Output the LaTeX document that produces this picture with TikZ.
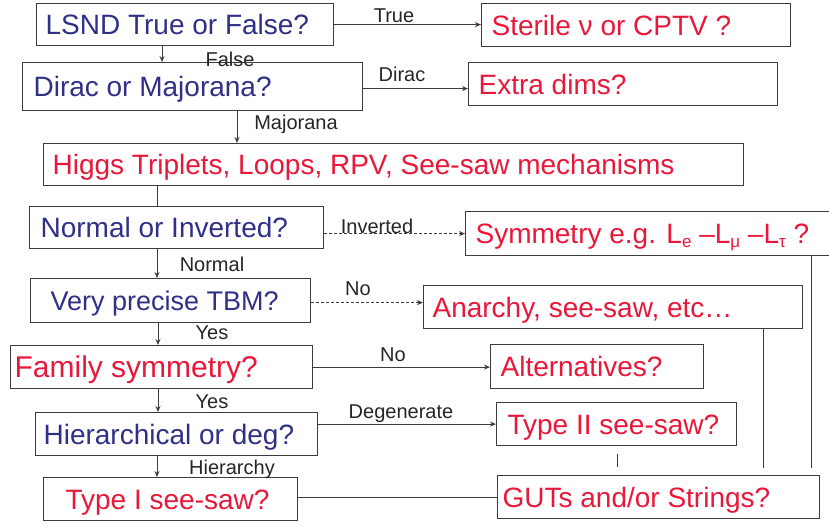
\documentclass[tikz,border=0pt]{standalone}
\usepackage{fontspec}
\setmainfont{Liberation Sans}
\usetikzlibrary{arrows.meta}
\definecolor{qblue}{RGB}{48,48,135}
\definecolor{ared}{RGB}{232,24,58}
\definecolor{lgray}{RGB}{60,60,60}
\begin{document}
\begin{tikzpicture}[x=1pt,y=-1pt,
  box/.style={draw=lgray, line width=1.2pt, anchor=north west, inner ysep=0pt,
    text height=20pt, text depth=0pt, font=\fontsize{28}{30}\selectfont},
  qbox/.style={box, text=qblue},
  abox/.style={box, text=ared},
  lab/.style={font=\fontsize{20}{22}\selectfont, text=black!85, inner sep=0pt,
    text height=14.5pt, text depth=0pt},
  con/.style={draw=lgray, line width=0.9pt},
  arr/.style={con, -{Stealth[length=6pt,width=5pt]}},
]
\fill[white] (0,0) rectangle (829,527);
\useasboundingbox (0,0) rectangle (829,527);

% boxes
\node[qbox, minimum height=42pt, inner xsep=9pt]  (lsnd)    at (36,3)    {\makebox[279pt][l]{LSND True or False?}};
\node[abox, minimum height=43pt, inner xsep=10pt] (sterile) at (481,3)   {\makebox[289pt][l]{Sterile ν or CPTV ?}};
\node[qbox, minimum height=48pt, inner xsep=11pt] (dirac)   at (22,62)   {\makebox[318pt][l]{Dirac or Majorana?}};
\node[abox, minimum height=43pt, inner xsep=10pt] (extra)   at (468,62)  {\makebox[289pt][l]{Extra dims?}};
\node[abox, minimum height=42pt, inner xsep=9pt]  (higgs)   at (43,143)  {\makebox[682pt][l]{Higgs Triplets, Loops, RPV, See-saw mechanisms}};
\node[qbox, minimum height=42pt, inner xsep=11pt] (normal)  at (29,206)  {\makebox[272pt][l]{Normal or Inverted?}};
\node[abox, minimum height=44pt, inner xsep=10pt] (symm)    at (465,211) {\makebox[344pt][l]{Symmetry e.g. L{\fontsize{17}{18}\selectfont\raisebox{-4pt}{e}} –L{\fontsize{17}{18}\selectfont\raisebox{-4pt}{μ}} –L{\fontsize{17}{18}\selectfont\raisebox{-4pt}{τ}} ?}};
\node[qbox, minimum height=44pt, inner xsep=20pt, font=\fontsize{27}{29}\selectfont] (tbm) at (30,278) {\makebox[240pt][l]{Very precise TBM?}};
\node[abox, minimum height=43pt, inner xsep=9pt]  (anarchy) at (423,285) {\makebox[361pt][l]{Anarchy, see-saw, etc…}};
\node[abox, minimum height=43pt, inner xsep=4pt, font=\fontsize{30}{32}\selectfont] (family) at (10,345) {\makebox[294pt][l]{Family symmetry?}};
\node[abox, minimum height=44pt, inner xsep=10pt] (alt)     at (490,344) {\makebox[193pt][l]{Alternatives?}};
\node[qbox, minimum height=43pt, inner xsep=8pt]  (hier)    at (35,412)  {\makebox[266pt][l]{Hierarchical or deg?}};
\node[abox, minimum height=43pt, inner xsep=11pt] (type2)   at (496,402) {\makebox[218pt][l]{Type II see-saw?}};
\node[abox, minimum height=43pt, inner xsep=22pt] (type1)   at (43,477)  {\makebox[210pt][l]{Type I see-saw?}};
\node[abox, minimum height=43pt, inner xsep=5pt]  (guts)    at (497,475) {\makebox[312pt][l]{GUTs and/or Strings?}};

% labels
\node[lab] (ltrue)  at (394,15)  {True};
\node[lab] (lfalse) at (230,59)  {False};
\node[lab] (ldirac) at (402,74)  {Dirac};
\node[lab] (lmaj)   at (296,122) {Majorana};
\node[lab] (linv)   at (377,226) {Inverted};
\node[lab] (lnorm)  at (212,264) {Normal};
\node[lab] (lno1)   at (358,288) {No};
\node[lab] (lyes1)  at (212,332) {Yes};
\node[lab] (lno2)   at (393,354) {No};
\node[lab] (lyes2)  at (212,401) {Yes};
\node[lab] (ldeg)   at (401,411) {Degenerate};
\node[lab] (lhier)  at (232,467) {Hierarchy};

% connectors
\draw[arr] (lsnd.east) -- (lsnd.east -| sterile.west);
\draw[arr] ([xshift=126pt]lsnd.south west) -- ([xshift=140pt]dirac.north west);
\draw[arr] ([yshift=-2pt]dirac.east) -- ([yshift=-2pt]dirac.east -| extra.west);
\draw[arr] ([xshift=215pt]dirac.south west) -- ([xshift=194pt]higgs.north west);
\draw[con] ([xshift=114pt]higgs.south west) -- ([xshift=128pt]normal.north west);
\draw[arr, densely dashed] ([yshift=-6pt]normal.east) -- ([yshift=-6pt]normal.east -| symm.west);
\draw[arr] ([xshift=128pt]normal.south west) -- ([xshift=127pt]tbm.north west);
\draw[arr, densely dashed] ([yshift=-2pt]tbm.east) -- ([yshift=-2pt]tbm.east -| anarchy.west);
\draw[arr] ([xshift=128pt]tbm.south west) -- ([xshift=148pt]family.north west);
\draw[arr] (family.east) -- (family.east -| alt.west);
\draw[arr] ([xshift=148pt]family.south west) -- ([xshift=123pt]hier.north west);
\draw[arr] (hier.east |- type2.west) -- (type2.west);
\draw[arr] ([xshift=122pt]hier.south west) -- ([xshift=114pt]type1.north west);
\draw[con] ([yshift=2pt]type1.east) -- ([yshift=2pt]type1.east -| guts.west);
\draw[con, shorten <=8pt, shorten >=8pt] ([xshift=121pt]type2.south west) -- ([xshift=120pt]guts.north west);
\draw[con, shorten >=7pt] ([xshift=340pt]anarchy.south west) -- ([xshift=266pt]guts.north west);
\draw[con, shorten >=7pt] ([xshift=346pt]symm.south west) -- ([xshift=314pt]guts.north west);
\end{tikzpicture}
\end{document}
